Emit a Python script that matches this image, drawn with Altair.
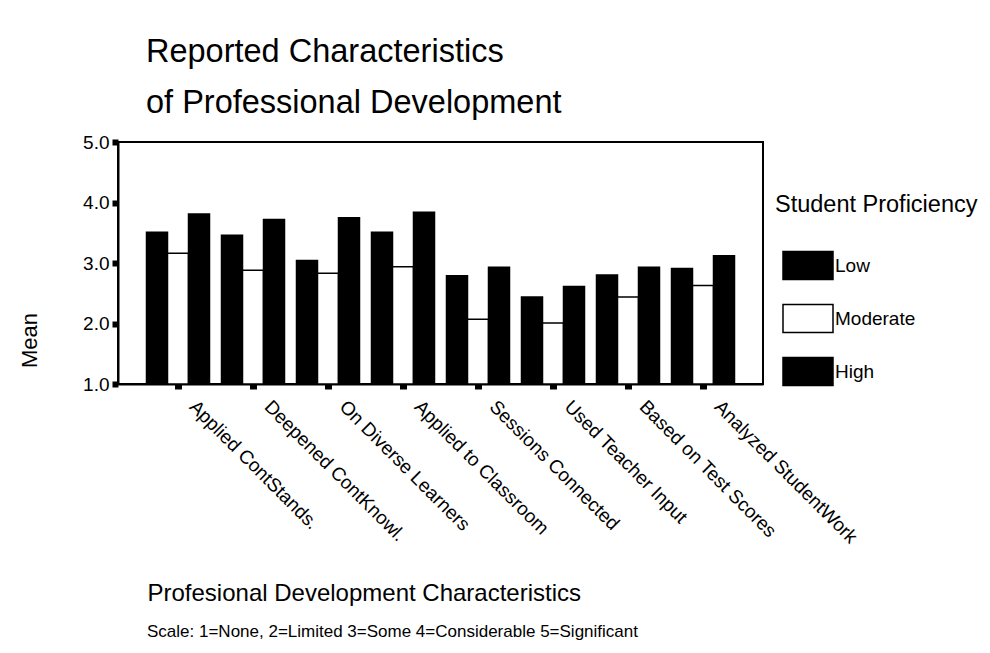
import altair as alt
import pandas as pd

categories = [
    "Applied ContStands.",
    "Deepened ContKnowl.",
    "On Diverse Learners",
    "Applied to Classroom",
    "Sessions Connected",
    "Used Teacher Input",
    "Based on Test Scores",
    "Analyzed StudentWork",
]
levels = ["Low", "Moderate", "High"]
low = [3.51, 3.46, 3.04, 3.51, 2.79, 2.44, 2.80, 2.91]
moderate = [3.16, 2.88, 2.83, 2.94, 2.07, 2.01, 2.44, 2.63]
high = [3.81, 3.72, 3.75, 3.84, 2.93, 2.61, 2.93, 3.12]
y_ticks = [1, 2, 3, 4, 5]
title_lines = ["Reported Characteristics", "of Professional Development"]
x_title = "Profesional Development Characteristics"
y_title = "Mean"
legend_title = "Student Proficiency"
footer = ["Scale: 1=None, 2=Limited 3=Some 4=Considerable 5=Significant"]

rows = []
for i, c in enumerate(categories):
    for lev, vals in zip(levels, [low, moderate, high]):
        rows.append({"category": c, "level": lev, "value": vals[i]})
df = pd.DataFrame(rows)

FONT = "Liberation Sans"

bars = alt.Chart(df).mark_bar(stroke="black", strokeWidth=1.5).encode(
    x=alt.X(
        "category:N",
        sort=categories,
        scale=alt.Scale(paddingInner=0.16, paddingOuter=0.38),
        axis=alt.Axis(
            title=x_title,
            titleFontSize=24,
            titleFontWeight="normal",
            titleColor="black",
            titleX=29,
            titleY=209,
            titleAlign="left",
            titleBaseline="middle",
            titleAngle=0,
            titleLimit=600,
            labelAngle=45,
            labelAlign="left",
            labelBaseline="top",
            labelFontSize=19,
            labelColor="black",
            labelOffset=21,
            labelPadding=8,
            labelLimit=400,
            tickSize=5,
            tickWidth=7,
            tickColor="black",
            domainColor="black",
            domainWidth=2,
            grid=False,
        ),
    ),
    xOffset=alt.XOffset(
        "level:N", sort=levels, scale=alt.Scale(paddingInner=0, paddingOuter=0)
    ),
    y=alt.Y(
        "value:Q",
        scale=alt.Scale(domain=[1, 5], zero=False, nice=False),
        axis=alt.Axis(
            values=y_ticks,
            format=".1f",
            title=y_title,
            titleFontSize=22,
            titleFontWeight="normal",
            titleColor="black",
            titleX=-89,
            titleY=198,
            titleAngle=270,
            titleAlign="center",
            titleBaseline="middle",
            labelFontSize=19,
            labelColor="black",
            labelPadding=3,
            tickSize=6,
            tickWidth=6,
            tickColor="black",
            domainColor="black",
            domainWidth=2,
            grid=False,
        ),
    ),
    y2=alt.datum(1),
    fill=alt.Fill(
        "level:N",
        sort=levels,
        scale=alt.Scale(domain=levels, range=["black", "white", "black"]),
        legend=alt.Legend(
            title=legend_title,
            orient="none",
            legendX=657,
            legendY=51,
            titleFontSize=23.5,
            titleFontWeight="normal",
            titleColor="black",
            titleLimit=400,
            titlePadding=23,
            labelFontSize=19,
            labelColor="black",
            labelOffset=1,
            symbolType="M-1,-0.56H1V0.56H-1Z",
            symbolSize=2500,
            symbolStrokeColor="black",
            symbolStrokeWidth=1.5,
            symbolOffset=7,
            symbolOpacity=1,
            rowPadding=10,
        ),
    ),
)

note = alt.Chart(pd.DataFrame({"note": footer})).mark_text(
    align="left", baseline="middle", fontSize=17, color="black", font=FONT
).encode(text="note:N", x=alt.value(29), y=alt.value(490))

chart = (
    alt.layer(bars, note)
    .properties(
        width=645,
        height=242,
        padding={"left": 110, "top": 134, "right": 219, "bottom": 261},
        autosize=alt.AutoSizeParams(type="none"),
        title=alt.TitleParams(
            text=title_lines,
            anchor="start",
            frame="group",
            fontSize=32.5,
            fontWeight="normal",
            color="black",
            lineHeight=51,
            offset=14,
            dx=28,
        ),
    )
    .configure(font=FONT)
    .configure_view(stroke="black", strokeWidth=2)
)

chart.save("out.html", embed_options={"renderer": "svg", "actions": False})
